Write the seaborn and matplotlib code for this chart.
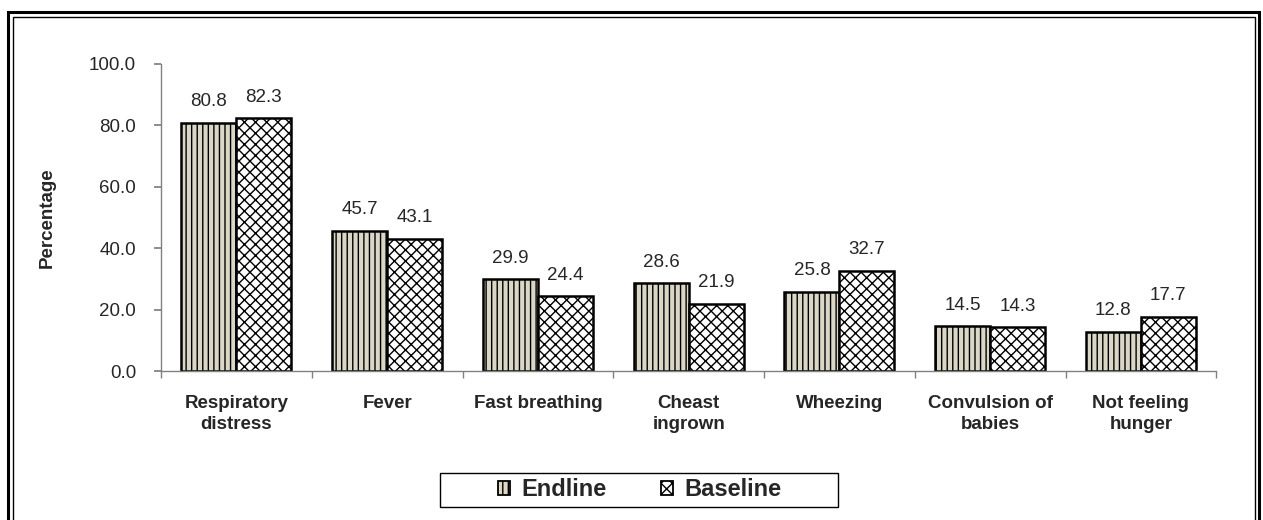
import numpy as np
import pandas as pd
import seaborn as sns
import matplotlib.pyplot as plt
from matplotlib.patches import Rectangle, Patch

sns.set_theme(style="white")
plt.rcParams['font.family'] = ['Liberation Sans', 'DejaVu Sans']
plt.rcParams['hatch.linewidth'] = 1.0

# data
categories = ["Respiratory\ndistress", "Fever", "Fast breathing", "Cheast\ningrown",
              "Wheezing", "Convulsion of\nbabies", "Not feeling\nhunger"]
endline = [80.8, 45.7, 29.9, 28.6, 25.8, 14.5, 12.8]
baseline = [82.3, 43.1, 24.4, 21.9, 32.7, 14.3, 17.7]
groups = ["Endline", "Baseline"]

df = pd.DataFrame({
    "symptom": categories * 2,
    "value": endline + baseline,
    "group": [groups[0]] * len(categories) + [groups[1]] * len(categories),
})

colors = {"Endline": "#ddd9c3", "Baseline": "#ffffff"}
hatches = {"Endline": "|||", "Baseline": "xxx"}

W, H = 1263, 520
fig = plt.figure(figsize=(W / 100, H / 100), dpi=100)
ax = fig.add_axes([0.1275, 0.2865, 0.8355, 0.591])

sns.barplot(data=df, x="symptom", y="value", hue="group", hue_order=groups,
            palette=colors, width=0.73, edgecolor="black", linewidth=1.8,
            legend=False, ax=ax)

for cont, g in zip(ax.containers, groups):
    for bar in cont:
        bar.set_hatch(hatches[g])
    ax.bar_label(cont, fmt="%.1f", padding=9, fontsize=13.5)

ax.set_ylim(0, 100)
ax.set_yticks(np.arange(0, 101, 20))
ax.set_yticklabels([f"{v:.1f}" for v in np.arange(0, 101, 20)], fontsize=13.5)
ax.set_xlim(-0.5, len(categories) - 0.5)
ax.set_xticks(range(len(categories)))
ax.set_xticklabels(categories, fontsize=13.5, fontweight="bold", linespacing=1.3)
ax.set_xticks(np.arange(-0.5, len(categories), 1.0), minor=True)
ax.tick_params(axis="x", which="major", length=0, pad=17)
ax.tick_params(axis="x", which="minor", length=5, color="#808080", direction="out", bottom=True)
ax.tick_params(axis="y", length=5, color="#808080", direction="out", left=True, pad=13)
ax.set_xlabel("")
ax.set_ylabel("Percentage", fontsize=13.5, fontweight="bold", labelpad=24)

for s in ["top", "right"]:
    ax.spines[s].set_visible(False)
for s in ["left", "bottom"]:
    ax.spines[s].set_color("#808080")
    ax.spines[s].set_linewidth(1.0)

handles = [Patch(facecolor=colors[g], edgecolor="black", hatch=hatches[g], linewidth=1.3)
           for g in groups]
leg = fig.legend(handles, groups, loc="center", bbox_to_anchor=(640 / W, 1 - 490 / H),
                 ncol=2, frameon=False, handlelength=0.5, handleheight=0.5,
                 handletextpad=0.5, columnspacing=2.3,
                 prop={"size": 17, "weight": "bold"})
# legend box
fig.add_artist(Rectangle((440 / W, 1 - 507 / H), (838 - 440) / W, 34 / H,
                         transform=fig.transFigure, fill=False, edgecolor="black", linewidth=1.0))

# double border around the figure (bottom edge falls outside the image)
fig.add_artist(Rectangle((8 / W, -10 / H), (1259 - 8) / W, (H - 12 + 10) / H,
                         transform=fig.transFigure, fill=False, edgecolor="black", linewidth=2.2))
fig.add_artist(Rectangle((13 / W, -10 / H), (1255 - 13) / W, (H - 17 + 10) / H,
                         transform=fig.transFigure, fill=False, edgecolor="black", linewidth=1.0))

fig.savefig("out.png", dpi=100)
